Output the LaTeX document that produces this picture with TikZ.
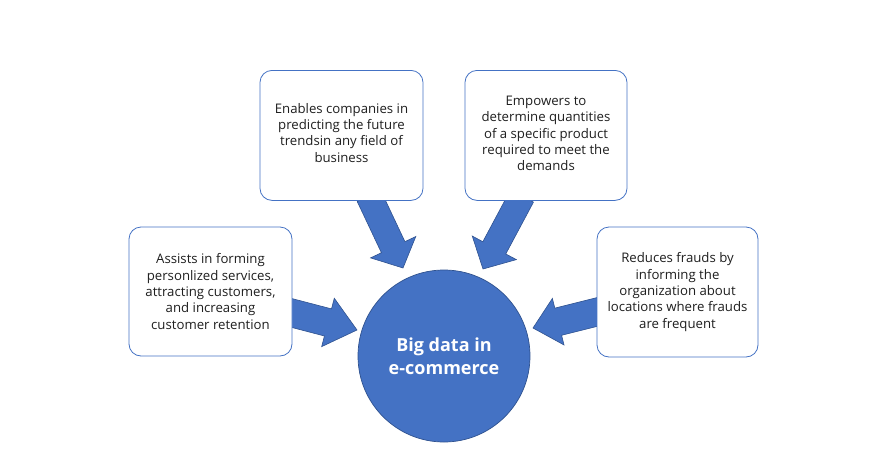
\documentclass[tikz,border=0pt]{standalone}
\usepackage{fontspec}
\setmainfont{Open Sans}
\usetikzlibrary{calc}
\definecolor{ublue}{HTML}{4472C4}
\definecolor{dblue}{HTML}{2F528F}
\tikzset{
  infobox/.style={draw=ublue, line width=0.8pt, fill=white, rounded corners=12pt, align=center,
    font=\fontsize{13.2}{16.3}\selectfont, text=black!88, inner sep=0pt},
  boxtext/.style={align=center, font=\fontsize{13.2}{16.3}\selectfont, text=black!88, anchor=north, inner sep=0pt},
  hub/.style={circle, fill=ublue, draw=dblue, line width=0.7pt, minimum size=172pt, inner sep=0pt,
    align=center, text=white, font=\fontsize{18}{23}\selectfont\bfseries},
  blockarr/.style={fill=ublue, draw=dblue, line width=0.6pt, line join=miter}
}
% #1 tail, #2 tip, #3 body half width, #4 head half width, #5 head length
\newcommand\blockarrow[5]{%
  \coordinate (hb) at ($(#2)!#5!(#1)$);
  \path[blockarr] ($(#1)!#3!90:(#2)$) -- ($(hb)!#3!-90:(#1)$) -- ($(hb)!#4!-90:(#1)$) -- (#2)
    -- ($(hb)!#4!90:(#1)$) -- ($(hb)!#3!90:(#1)$) -- ($(#1)!#3!-90:(#2)$) -- cycle;
}
\begin{document}
\begin{tikzpicture}[x=1pt,y=-1pt]
\useasboundingbox (0,0) rectangle (892,461);
% coordinates of arrow ends
\coordinate (t1) at (288,312);
\coordinate (p1) at (357,330);
\coordinate (t2) at (369,196);
\coordinate (p2) at (403,268);
\coordinate (t3) at (522,196);
\coordinate (p3) at (483,269);
\coordinate (t4) at (601,311);
\coordinate (p4) at (533,328);
\blockarrow{t1}{p1}{14pt}{25pt}{30pt}
\blockarrow{t2}{p2}{13pt}{25pt}{23pt}
\blockarrow{t3}{p3}{13pt}{25pt}{24pt}
\blockarrow{t4}{p4}{14pt}{24pt}{26pt}
\node[hub] (c) at (444,356) {Big data in\\e-commerce};
\node[infobox, minimum width=163pt, minimum height=129pt] (b1) at (210.5,291.5)
  {Assists in forming\\personlized services,\\attracting customers,\\and increasing\\customer retention};
\node[infobox, minimum width=163pt, minimum height=130pt, anchor=north] (b2) at (341.5,70)
  {};
\node[boxtext] (b2t) at (341.5,103)
  {Enables companies in\\predicting the future\\trendsin any field of\\business};
\node[infobox, minimum width=162pt, minimum height=130pt, anchor=north] (b3) at (546,70)
  {};
\node[boxtext] (b3t) at (546,96)
  {Empowers to\\determine quantities\\of a specific product\\required to meet the\\demands};
\node[infobox, minimum width=161pt, minimum height=130pt] (b4) at (677.5,292)
  {Reduces frauds by\\informing the\\organization about\\locations where frauds\\are frequent};
\end{tikzpicture}
\end{document}
